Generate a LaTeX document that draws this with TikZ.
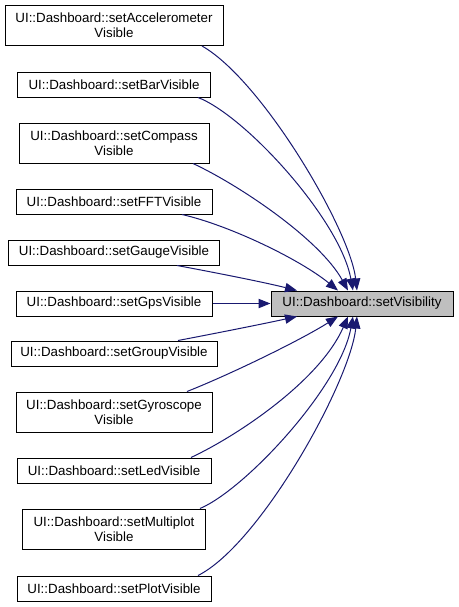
\documentclass[tikz,border=0pt]{standalone}
\usepackage{fontspec}
\setmainfont{Liberation Sans}
\usetikzlibrary{calc,arrows.meta}
\definecolor{navy}{HTML}{191970}
\tikzset{
  fn/.style={draw,line width=0.75pt,inner sep=0pt,align=center,font=\fontsize{10}{11.25}\selectfont},
  one/.style={minimum height=18.75pt},
  two/.style={minimum height=30pt},
  cur/.style={fill=black!25},
  call/.style={draw=navy,line width=0.75pt,-{Triangle[length=9pt,width=7pt]}}
}

\begin{document}
\begin{tikzpicture}[x=0.75pt,y=-0.75pt]
\useasboundingbox (0,0) rectangle (459,607);
% callers
\node[fn,two,minimum width=163.5pt] (acc) at (114,25.5) {UI::Dashboard::setAccelerometer\\Visible};
\node[fn,one,minimum width=144.75pt] (bar) at (114,84.5) {UI::Dashboard::setBarVisible};
\node[fn,two,minimum width=142.5pt] (cmp) at (114,143) {UI::Dashboard::setCompass\\Visible};
\node[fn,one,minimum width=147pt] (fft) at (114,201.5) {UI::Dashboard::setFFTVisible};
\node[fn,one,minimum width=158.25pt] (gau) at (114,252.5) {UI::Dashboard::setGaugeVisible};
\node[fn,one,minimum width=147pt] (gps) at (114,303.5) {UI::Dashboard::setGpsVisible};
\node[fn,one,minimum width=154.5pt] (grp) at (114,353.5) {UI::Dashboard::setGroupVisible};
\node[fn,two,minimum width=147pt] (gyr) at (114,412) {UI::Dashboard::setGyroscope\\Visible};
\node[fn,one,minimum width=145.5pt] (led) at (114,470.5) {UI::Dashboard::setLedVisible};
\node[fn,two,minimum width=137.25pt] (mul) at (114,529) {UI::Dashboard::setMultiplot\\Visible};
\node[fn,one,minimum width=145.5pt] (plt) at (114,588.5) {UI::Dashboard::setPlotVisible};
% callee
\node[fn,one,cur,minimum width=136.5pt] (vis) at (362,303.5) {UI::Dashboard::setVisibility};
% calls from above
\draw[call] ($(acc.south)+(88,0)$) .. controls +(60,34) and +(-7,-61) .. ($(vis.north)+(-5,0)$);
\draw[call] ($(bar.south)+(84,0)$) .. controls +(47,18) and +(-13,-71) .. ($(vis.north)+(-9,0)$);
\draw[call] ($(cmp.south)+(79,0)$) .. controls +(47,22) and +(-28,-51) .. ($(vis.north)+(-14,0)$);
\draw[call] ($(fft.south)+(68,0)$) .. controls +(48,11) and +(-38,-31) .. ($(vis.north)+(-24,0)$);
\draw[call] ($(gau.south)+(63,0)$) .. controls +(43,8) and +(-32,-8) .. ($(vis.north)+(-65,0)$);
\draw[call] (gps.east) -- (vis.west);
% calls from below
\draw[call] ($(grp.north)+(64,0)$) .. controls +(42,-8) and +(-32,7) .. ($(vis.south)+(-65,0)$);
\draw[call] ($(gyr.north)+(73,0)$) .. controls +(43,-17) and +(-38,24) .. ($(vis.south)+(-24,0)$);
\draw[call] ($(led.north)+(77,0)$) .. controls +(47,-22) and +(-28,64) .. ($(vis.south)+(-14,0)$);
\draw[call] ($(mul.north)+(86,0)$) .. controls +(45,-19) and +(-13,71) .. ($(vis.south)+(-9,0)$);
\draw[call] ($(plt.north)+(84,0)$) .. controls +(62,-31) and +(-7,66) .. ($(vis.south)+(-5,0)$);
\end{tikzpicture}
\end{document}
